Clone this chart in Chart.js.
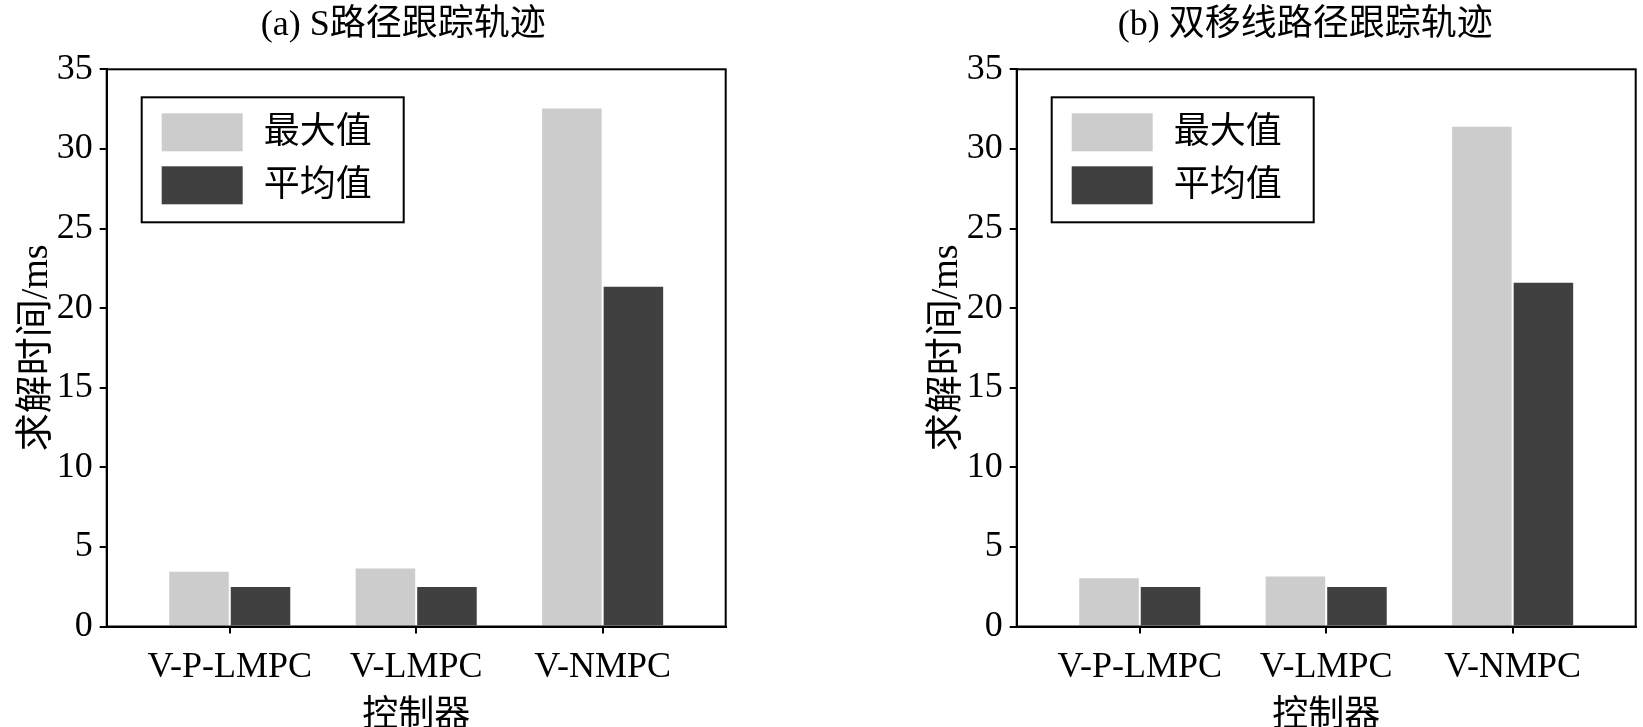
<!DOCTYPE html>
<html>
<head>
<meta charset="utf-8">
<script src="https://cdn.jsdelivr.net/npm/chart.js@4/dist/chart.umd.min.js"></script>
<style>
  body { margin: 0; background: #fff; }
  .wrap { position: absolute; top: 0; height: 727px; }
</style>
</head>
<body>
<div class="wrap" style="left:0;width:810px"><canvas id="chartA"></canvas></div>
<div class="wrap" style="left:910px;width:733px"><canvas id="chartB"></canvas></div>
<script>
// chart data
var controllers = ['V-P-LMPC', 'V-LMPC', 'V-NMPC'];
var seriesNames = ['最大值', '平均值'];
var maxA = [3.5, 3.7, 32.6];
var meanA = [2.55, 2.55, 21.4];
var maxB = [3.1, 3.2, 31.45];
var meanB = [2.55, 2.55, 21.65];
var yTicks = [0, 5, 10, 15, 20, 25, 30, 35];
var titleA = '(a) S路径跟踪轨迹';
var titleB = '(b) 双移线路径跟踪轨迹';
var yTitle = '求解时间/ms';
var xTitle = '控制器';

var FONT = "'Liberation Serif', 'Noto Sans CJK SC', serif";
var colors = ['#cccccc', '#404040'];

// draws the box around the plot, the panel title and the legend inside the plot
var framePlugin = {
    id: 'frame',
    afterDraw: function(chart, args, opts) {
        var ctx = chart.ctx;
        var a = chart.chartArea;
        ctx.save();
        ctx.strokeStyle = '#000';
        ctx.lineWidth = 2;
        ctx.strokeRect(a.left, a.top, a.right - a.left, a.bottom - a.top);

        // title
        ctx.fillStyle = '#000';
        ctx.font = '36px ' + FONT;
        ctx.textAlign = 'center';
        ctx.textBaseline = 'middle';
        ctx.fillText(opts.text, (a.left + a.right) / 2 + opts.dx, 26);

        // legend
        var lx = a.left + 35, ly = a.top + 28;
        ctx.fillStyle = '#fff';
        ctx.fillRect(lx, ly, 262, 125);
        ctx.lineWidth = 2;
        ctx.strokeRect(lx, ly, 262, 125);
        ctx.textAlign = 'left';
        chart.data.datasets.forEach(function(ds, i) {
            var sy = ly + 16 + i * 53;
            ctx.fillStyle = ds.backgroundColor;
            ctx.fillRect(lx + 20, sy, 81, 38);
            ctx.fillStyle = '#000';
            ctx.fillText(ds.label, lx + 122, sy + 20);
        });
        ctx.restore();
    }
};

function makeChart(id, title, dx, maxVals, meanVals) {
    var ctx = document.getElementById(id).getContext('2d');
    return new Chart(ctx, {
        type: 'bar',
        data: {
            datasets: [maxVals, meanVals].map(function(vals, i) {
                return {
                    label: seriesNames[i],
                    data: vals.map(function(v, j) { return { x: j, y: v }; }),
                    backgroundColor: colors[i],
                    borderColor: 'rgba(255,255,255,0.35)',
                    borderWidth: 1,
                    categoryPercentage: 0.66,
                    barPercentage: 1.0
                };
            })
        },
        options: {
            responsive: true,
            maintainAspectRatio: false,
            animation: false,
            layout: { padding: { top: 69.3, right: id === 'chartA' ? 84.3 : 7.3, left: 0, bottom: 0 } },
            plugins: {
                legend: { display: false },
                tooltip: { enabled: false },
                frame: { text: title, dx: dx }
            },
            scales: {
                x: {
                    type: 'linear',
                    offset: false,
                    bounds: 'data',
                    min: -0.66,
                    max: 2.66,
                    afterBuildTicks: function(scale) {
                        scale.ticks = controllers.map(function(c, i) { return { value: i }; });
                    },
                    afterFit: function(scale) { scale.height = 100.5; },
                    ticks: {
                        color: '#000',
                        font: { family: FONT, size: 36 },
                        padding: 12,
                        maxRotation: 0,
                        autoSkip: false,
                        callback: function(v) { return controllers[v]; }
                    },
                    grid: { offset: false, drawOnChartArea: false, drawTicks: true, tickLength: 7, color: '#000', lineWidth: 2 },
                    border: { display: true, color: '#000', width: 2 },
                    title: { display: true, text: xTitle, color: '#000', font: { family: FONT, size: 36, lineHeight: 1.0 }, padding: { top: 0, bottom: -8 } }
                },
                y: {
                    min: 0,
                    max: 35,
                    afterBuildTicks: function(scale) {
                        scale.ticks = yTicks.map(function(v) { return { value: v }; });
                    },
                    afterFit: function(scale) { scale.width = 106.7; },
                    ticks: {
                        color: '#000',
                        font: { family: FONT, size: 36 },
                        padding: 7
                    },
                    grid: { drawOnChartArea: false, drawTicks: true, tickLength: 7, color: '#000', lineWidth: 2 },
                    border: { display: true, color: '#000', width: 2 },
                    title: { display: true, text: yTitle, color: '#000', font: { family: FONT, size: 38 }, padding: { top: 14, bottom: 0 } }
                }
            }
        },
        plugins: [framePlugin]
    });
}

makeChart('chartA', titleA, -13, maxA, meanA);
makeChart('chartB', titleB, -21, maxB, meanB);
</script>
</body>
</html>
